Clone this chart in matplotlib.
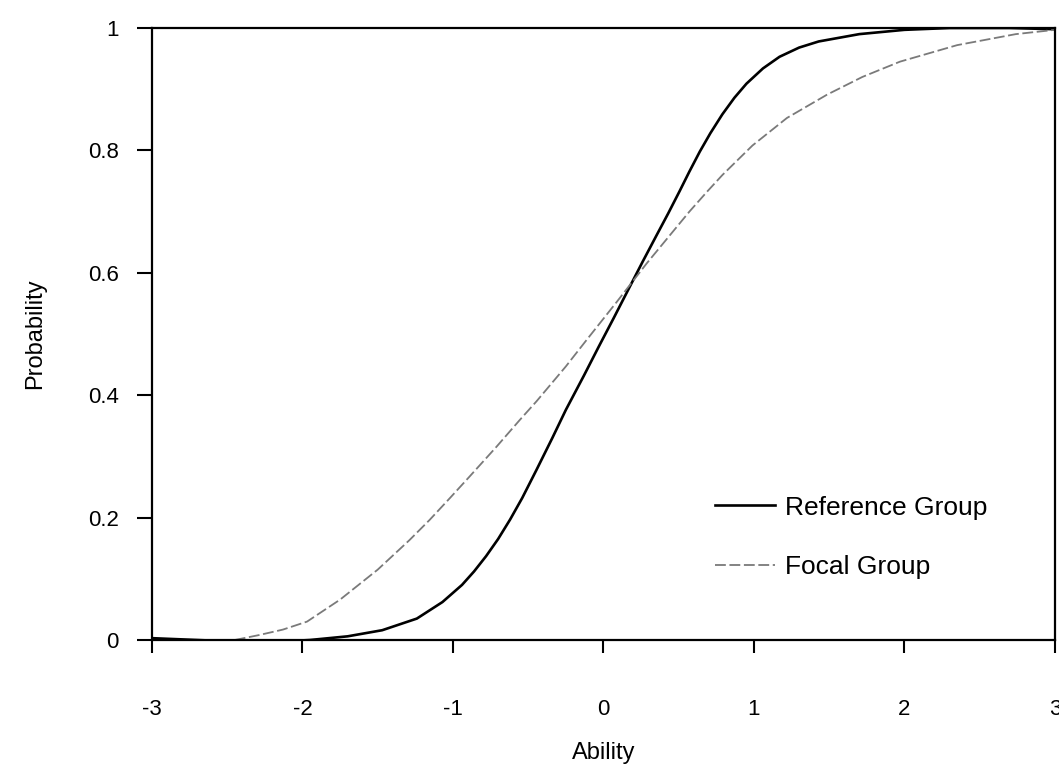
import matplotlib
matplotlib.use("Agg")
import matplotlib.pyplot as plt

# values
ref_x = [-3.0, -2.7, -2.4, -2.1, -1.95, -1.7, -1.47, -1.24, -1.07, -0.94, -0.86, -0.78,
         -0.70, -0.62, -0.54, -0.445, -0.34, -0.25, -0.13, -0.03, 0.07, 0.17, 0.26, 0.35,
         0.43, 0.505, 0.57, 0.64, 0.71, 0.79, 0.87, 0.95, 1.06, 1.17, 1.3, 1.43, 1.7,
         2.0, 2.3, 2.7, 3.0]
ref_y = [0.003, 0.0, -0.003, -0.002, 0.0, 0.006, 0.016, 0.035, 0.062, 0.09, 0.112, 0.137,
         0.165, 0.197, 0.232, 0.278, 0.33, 0.376, 0.432, 0.48, 0.527, 0.575, 0.618, 0.66,
         0.697, 0.733, 0.765, 0.798, 0.828, 0.859, 0.886, 0.909, 0.934, 0.953, 0.968,
         0.978, 0.99, 0.997, 1.0, 1.0, 0.998]

focal_x = [-2.45, -2.29, -2.13, -1.97, -1.75, -1.5, -1.29, -1.156, -1.02, -0.89, -0.71,
           -0.558, -0.445, -0.25, -0.113, 0.09, 0.286, 0.43, 0.571, 0.69, 0.791, 0.99,
           1.219, 1.485, 1.72, 1.97, 2.35, 2.74, 3.0]
focal_y = [0.0, 0.008, 0.017, 0.03, 0.066, 0.115, 0.163, 0.196, 0.232, 0.267, 0.316,
           0.359, 0.39, 0.447, 0.49, 0.553, 0.615, 0.658, 0.70, 0.733, 0.76, 0.808,
           0.853, 0.891, 0.92, 0.945, 0.972, 0.99, 0.997]

x_ticks = [-3, -2, -1, 0, 1, 2, 3]
y_ticks = [0, 0.2, 0.4, 0.6, 0.8, 1]
y_labels = ["0", "0.2", "0.4", "0.6", "0.8", "1"]

plt.rcParams['font.family'] = ['Liberation Sans', 'DejaVu Sans']

fig = plt.figure(figsize=(10.59, 7.65), dpi=100)
ax = fig.add_axes([0.1435, 0.1634, 0.8527, 0.8])

ax.plot(ref_x, ref_y, color="black", lw=1.9, label="Reference Group")
ax.plot(focal_x, focal_y, color="#7a7a7a", lw=1.3, dashes=(6, 2),
        label="Focal Group")

ax.set_xlim(-3, 3)
ax.set_ylim(0, 1)
ax.set_xticks(x_ticks)
ax.set_xticklabels([str(t) for t in x_ticks])
ax.set_yticks(y_ticks)
ax.set_yticklabels(y_labels)

for s in ax.spines.values():
    s.set_linewidth(1.6)
    s.set_color("black")

ax.tick_params(axis="x", direction="out", length=9.5, width=1.5, pad=33, labelsize=16)
ax.tick_params(axis="y", direction="out", length=11, width=1.5, pad=13, labelsize=16)

ax.set_xlabel("Ability", fontsize=17, labelpad=16)
ax.set_ylabel("Probability", fontsize=17, labelpad=30)

ax.legend(loc="center left", bbox_to_anchor=(0.612, 0.1675), frameon=False,
          borderaxespad=0, fontsize=19, handlelength=2.27, handletextpad=0.38,
          labelspacing=1.36)

plt.savefig("out.png", dpi=100)
plt.close()
